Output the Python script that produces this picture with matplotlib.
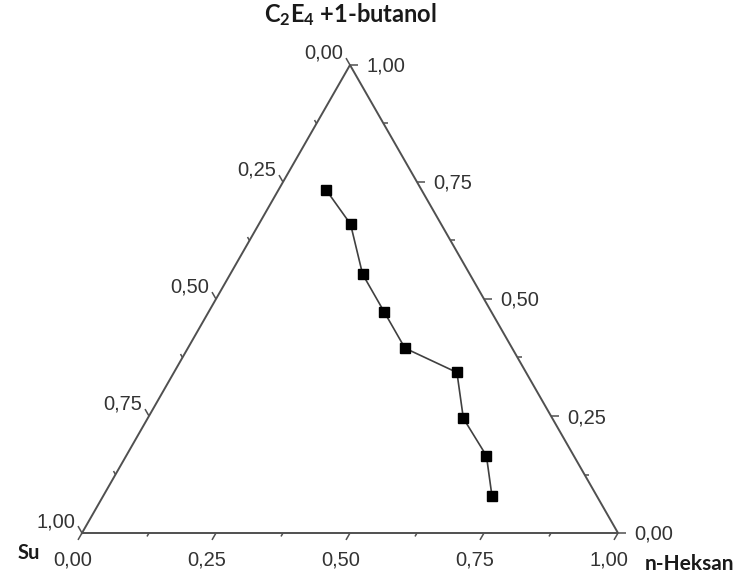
import numpy as np
import matplotlib
matplotlib.use("Agg")
import matplotlib.pyplot as plt

plt.rcParams['mathtext.fontset'] = 'custom'
plt.rcParams['mathtext.rm'] = 'Lato'
plt.rcParams['mathtext.bf'] = 'Lato:bold'

# ternary data: fractions of n-Heksan and C2E4+1-butanol (Su = rest)
heksan = [0.089, 0.171, 0.247, 0.327, 0.405, 0.528, 0.589, 0.672, 0.726]
butanol = [0.733, 0.660, 0.553, 0.473, 0.395, 0.343, 0.245, 0.165, 0.078]

tick_vals = [0.0, 0.25, 0.5, 0.75, 1.0]
minor_vals = [0.125, 0.375, 0.625, 0.875]
tick_labels = ['0,00', '0,25', '0,50', '0,75', '1,00']

title = r'$\mathbf{C_2E_4}$ +1-butanol'
left_name = 'Su'
right_name = 'n-Heksan'

H = np.sqrt(3) / 2


def tern(h, b):
    # cartesian position of a point given heksan and butanol fractions
    h = np.asarray(h, float)
    b = np.asarray(b, float)
    return h + b / 2, b * H


fig = plt.figure(figsize=(7.42, 5.79), dpi=100)
ax = fig.add_axes([0, 0, 1, 1])
# pixel layout of the triangle in the picture
sx = 536.0
sy = 468.0 / H
ax.set_xlim(-82 / sx, (742 - 82) / sx)
ax.set_ylim(-(579 - 533) / sy, 533 / sy)
ax.axis('off')

edge = '#505050'
txtc = '#333333'

# triangle frame
cx, cy = tern([0, 1, 0, 0], [0, 0, 1, 0])
ax.plot(cx, cy, color=edge, lw=1.4, solid_joinstyle='miter', zorder=2)

# tick directions (in pixels): bottom -> down-left, right -> right, left -> up-left
dirs = {'bottom': (-0.5, -H), 'right': (1.0, 0.0), 'left': (-0.5, H)}


def tick(x, y, d, length):
    dx, dy = dirs[d]
    ax.plot([x, x + dx * length / sx], [y, y + dy * length / sy],
            color=edge, lw=1.1, solid_capstyle='butt', zorder=2)


lab_kw = dict(textcoords='offset pixels', fontsize=14.5, color=txtc,
              family=['Liberation Sans', 'DejaVu Sans'])

for v, lab in zip(tick_vals, tick_labels):
    # bottom axis: n-Heksan
    x, y = tern(v, 0)
    tick(x, y, 'bottom', 8)
    ax.annotate(lab, (x, y), xytext=(-9, -17), ha='center', va='top', **lab_kw)
    # right axis: butanol
    x, y = tern(1 - v, v)
    tick(x, y, 'right', 8)
    ax.annotate(lab, (x, y), xytext=(16, -7), ha='left', va='baseline', **lab_kw)
    # left axis: Su
    x, y = tern(0, 1 - v)
    tick(x, y, 'left', 8)
    ax.annotate(lab, (x, y), xytext=(-7, 6), ha='right', va='baseline', **lab_kw)

for v in minor_vals:
    x, y = tern(v, 0)
    tick(x, y, 'bottom', 4)
    x, y = tern(1 - v, v)
    tick(x, y, 'right', 4)
    x, y = tern(0, 1 - v)
    tick(x, y, 'left', 4)

# data
px, py = tern(heksan, butanol)
ax.plot(px, py, color='#404040', lw=1.2, marker='s', ms=6.5,
        mfc='black', mec='black', zorder=3)

name_kw = dict(textcoords='offset pixels', fontweight='bold',
               color='#1a1a1a', family=['Lato', 'DejaVu Sans'])
tx, ty = tern(0, 1)
ax.annotate(title, (tx, ty), xytext=(0, 50), ha='center', va='center',
            fontsize=17, **name_kw)
lx, ly = tern(0, 0)
ax.annotate(left_name, (lx, ly), xytext=(-53, -20), ha='center', va='center',
            fontsize=14.5, **name_kw)
rx, ry = tern(1, 0)
ax.annotate(right_name, (rx, ry), xytext=(72, -31), ha='center', va='center',
            fontsize=15, **name_kw)

fig.savefig('out.png', dpi=100)
